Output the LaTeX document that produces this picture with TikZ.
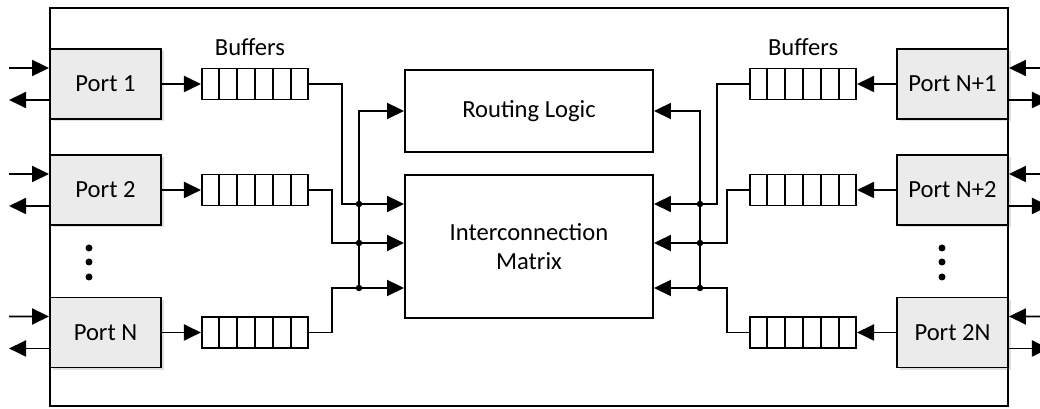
\documentclass[tikz,border=0pt]{standalone}
\usepackage{fontspec}
\setmainfont{Carlito}
\usepackage{tikz}
\usetikzlibrary{arrows.meta, positioning, calc, shadows}
\definecolor{portgray}{HTML}{EBEBEB}

\begin{document}
\begin{tikzpicture}[
  port/.style={rectangle, draw, fill=portgray, minimum width=2.22cm, minimum height=1.4cm, drop shadow={shadow xshift=0.05cm, shadow yshift=-0.05cm, opacity=0.25}},
  buffer/.style={rectangle, draw, minimum width=2.12cm, minimum height=0.62cm, inner sep=0pt},
  unit/.style={rectangle, draw, minimum width=4.96cm, align=center},
  arrow/.style={-{Triangle[length=0.34cm, width=0.32cm]}},
  every node/.style={font=\fontsize{14}{16.8}\selectfont},
  line width=1.1pt
]
  \useasboundingbox (0,0) rectangle (20.8,8.18);
  \draw (1.0,0.06) rectangle (20.16,8.02);

  % ports
  \node[port] (port1) at (2.11,6.5) {Port 1};
  \node[port] (port2) at (2.11,4.38) {Port 2};
  \node[port] (portn) at (2.11,1.53) {Port N};
  \node[port] (portn1) at (19.05,6.5) {Port N+1};
  \node[port] (portn2) at (19.05,4.38) {Port N+2};
  \node[port] (port2n) at (19.05,1.53) {Port 2N};

  % buffers
  \node[buffer, right=0.78cm of port1] (buf1) {};
  \node[buffer, right=0.78cm of port2] (buf2) {};
  \node[buffer, right=0.78cm of portn] (bufn) {};
  \node[buffer, left=0.78cm of portn1] (bufn1) {};
  \node[buffer, left=0.78cm of portn2] (bufn2) {};
  \node[buffer, left=0.78cm of port2n] (buf2n) {};
  \foreach \b in {buf1,buf2,bufn,bufn1,bufn2,buf2n}
    \foreach \k in {1,...,5}
      \draw ($(\b.north west)!\k/6!(\b.north east)$) -- ($(\b.south west)!\k/6!(\b.south east)$);
  \node[above=0.1cm of buf1, xshift=-0.1cm] (buflabl) {Buffers};
  \node[above=0.1cm of bufn1] (buflabr) {Buffers};

  % core
  \node[unit, minimum height=1.64cm] (route) at (10.58,5.96) {Routing Logic};
  \node[unit, minimum height=2.86cm, below=0.42cm of route] (xconn) {Interconnection\\Matrix};

  % ports to buffers
  \foreach \p/\b in {port1/buf1,port2/buf2,portn/bufn}
    \draw[arrow] (\p) -- (\b);
  \foreach \p/\b in {portn1/bufn1,portn2/bufn2,port2n/buf2n}
    \draw[arrow] (\p) -- (\b);

  % outside links
  \foreach \p in {port1,port2,portn} {
    \draw[arrow] ([shift={(-0.8,0.32)}]\p.west) -- ([yshift=0.32cm]\p.west);
    \draw[arrow] ([yshift=-0.32cm]\p.west) -- ++(-0.8,0);
  }
  \foreach \p in {portn1,portn2,port2n} {
    \draw[arrow] ([shift={(0.8,0.32)}]\p.east) -- ([yshift=0.32cm]\p.east);
    \draw[arrow] ([yshift=-0.32cm]\p.east) -- ++(0.8,0);
  }

  % left bus
  \coordinate (bl1) at (6.84,4.1);
  \coordinate (bl2) at (6.64,3.32);
  \coordinate (bl3) at (6.64,2.42);
  \coordinate (jl1) at (7.18,4.1);
  \coordinate (jl2) at (7.18,3.32);
  \coordinate (jl3) at (7.18,2.42);
  \draw[arrow] (buf1.east) -| (bl1) -- (xconn.west |- bl1);
  \draw[arrow] (buf2.east) -| (bl2) -- (xconn.west |- bl2);
  \draw[arrow] (bufn.east) -| (bl3) -- (xconn.west |- bl3);
  \draw[arrow] (jl3) |- (route.west);
  \foreach \j in {jl1,jl2,jl3}
    \fill (\j) circle (0.065);

  % right bus
  \coordinate (br1) at (14.34,4.1);
  \coordinate (br2) at (14.54,3.32);
  \coordinate (br3) at (14.54,2.42);
  \coordinate (jr1) at (14.0,4.1);
  \coordinate (jr2) at (14.0,3.32);
  \coordinate (jr3) at (14.0,2.42);
  \draw[arrow] (bufn1.west) -| (br1) -- (xconn.east |- br1);
  \draw[arrow] (bufn2.west) -| (br2) -- (xconn.east |- br2);
  \draw[arrow] (buf2n.west) -| (br3) -- (xconn.east |- br3);
  \draw[arrow] (jr3) |- (route.east);
  \foreach \j in {jr1,jr2,jr3}
    \fill (\j) circle (0.065);

  % more ports
  \foreach \y in {3.22,2.94,2.64} {
    \fill (1.78,\y) circle (0.07);
    \fill (18.84,\y) circle (0.07);
  }
\end{tikzpicture}
\end{document}
